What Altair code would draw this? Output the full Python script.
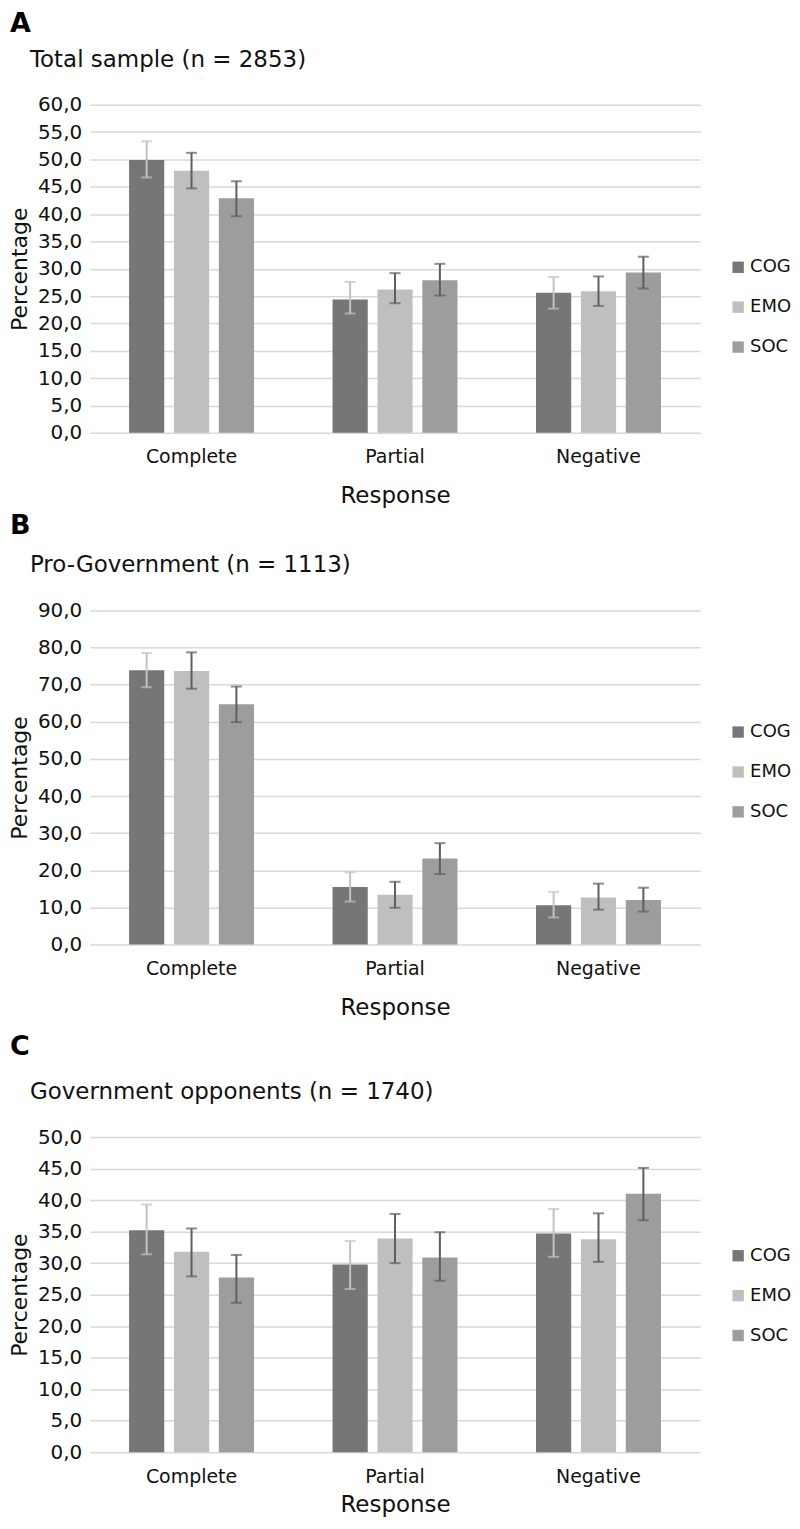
import altair as alt
import pandas as pd

FONT = "DejaVu Sans"

responses = ["Complete", "Partial", "Negative"]
types = ["COG", "EMO", "SOC"]
bar_colors = ["#767676", "#bfbfbf", "#9d9d9d"]
err_colors = ["#c2c2c2", "#5e5e5e", "#5e5e5e"]

# panel A: total sample
total_pct = [49.9, 47.9, 42.9, 24.4, 26.2, 27.9, 25.6, 25.9, 29.3]
total_low = [46.7, 44.7, 39.6, 21.8, 23.7, 25.1, 22.7, 23.2, 26.4]
total_high = [53.3, 51.2, 46.0, 27.6, 29.2, 30.9, 28.5, 28.6, 32.2]

# panel B: pro-government
pro_pct = [73.9, 73.7, 64.7, 15.5, 13.4, 23.2, 10.6, 12.7, 12.0]
pro_low = [69.3, 68.9, 59.9, 11.6, 9.9, 19.0, 7.3, 9.4, 8.9]
pro_high = [78.5, 78.7, 69.5, 19.5, 16.9, 27.3, 14.2, 16.4, 15.3]

# panel C: government opponents
opp_pct = [35.2, 31.8, 27.7, 29.8, 33.9, 30.9, 34.7, 33.8, 41.0]
opp_low = [31.4, 27.9, 23.7, 25.9, 30.0, 27.2, 31.0, 30.2, 36.8]
opp_high = [39.3, 35.5, 31.3, 33.5, 37.8, 34.9, 38.6, 37.9, 45.1]


def panel(letter, title, pct, low, high, ymax, step, plot_h, legend_y,
          letter_y, extra=0, title_pad=18):
    df = pd.DataFrame({
        "Response": [r for r in responses for _ in types],
        "Type": types * 3,
        "pct": pct,
        "low": low,
        "high": high,
        "err_color": err_colors * 3,
    })
    base = alt.Chart(df)
    x = alt.X("Response:N", sort=responses,
              scale=alt.Scale(paddingInner=0.386, paddingOuter=0.193),
              axis=alt.Axis(title="Response", labelAngle=0, ticks=False,
                            domain=False, labelPadding=15,
                            titlePadding=title_pad,
                            labelFontSize=19, titleFontSize=23,
                            offset=-extra))
    xo = alt.XOffset("Type:N", sort=types,
                     scale=alt.Scale(paddingInner=0.216, paddingOuter=0))
    yscale = alt.Scale(domain=[0, ymax], nice=False, range=[plot_h, 0])
    yaxis = alt.Axis(values=list(range(0, ymax + 1, step)),
                     labelExpr="replace(format(datum.value, '.1f'), '.', ',')",
                     labelOverlap=False,
                     title="Percentage", titleFontSize=22,
                     labelFontSize=20, labelPadding=8, titlePadding=6,
                     ticks=False, domain=False,
                     gridColor="#d9d9d9", gridWidth=1.5)

    bars = base.mark_bar().encode(
        x=x, xOffset=xo, y=alt.Y("pct:Q", scale=yscale, axis=yaxis),
        color=alt.Color("Type:N", sort=types,
                        scale=alt.Scale(domain=types, range=bar_colors),
                        legend=alt.Legend(title=None, orient="none",
                                          legendX=641, legendY=legend_y,
                                          symbolType="square", symbolSize=130,
                                          symbolStrokeWidth=0,
                                          labelFontSize=18, labelOffset=3,
                                          rowPadding=22)),
    )
    err = dict(x=x, xOffset=xo, color=alt.Color("err_color:N", scale=None))
    rules = base.mark_rule(strokeWidth=2).encode(
        y=alt.Y("low:Q", scale=yscale, axis=yaxis), y2="high:Q", **err)
    caps_lo = base.mark_tick(size=11, thickness=2).encode(
        y=alt.Y("low:Q", scale=yscale, axis=yaxis), **err)
    caps_hi = base.mark_tick(size=11, thickness=2).encode(
        y=alt.Y("high:Q", scale=yscale, axis=yaxis), **err)
    lab = alt.Chart(pd.DataFrame({"t": [letter]})).mark_text(
        align="left", baseline="top", fontSize=27, fontWeight="bold",
        font=FONT, color="#000"
    ).encode(x=alt.value(-80), y=alt.value(letter_y), text="t:N")
    sub = alt.Chart(pd.DataFrame({"t": [title]})).mark_text(
        align="left", baseline="alphabetic", fontSize=23, font=FONT,
        color="#111"
    ).encode(x=alt.value(-60), y=alt.value(-38), text="t:N")

    return (alt.layer(bars, rules, caps_lo, caps_hi, lab, sub)
            .resolve_scale(color="independent")
            .properties(width=612, height=plot_h + extra))


a = panel("A", "Total sample (n = 2853)", total_pct, total_low, total_high,
          60, 5, 329, 154, -94)
b = panel("B", "Pro-Government (n = 1113)", pro_pct, pro_low, pro_high,
          90, 10, 335, 113, -98, extra=15)
c = panel("C", "Government opponents (n = 1740)", opp_pct, opp_low, opp_high,
          50, 5, 316, 110, -103, title_pad=7)

chart = (alt.vconcat(a, b, c, spacing=178, bounds="flush")
         .properties(padding=0)
         .configure_axis(labelFont=FONT, titleFont=FONT, labelColor="#111",
                         titleColor="#111", titleFontWeight="normal")
         .configure_legend(labelFont=FONT, labelColor="#111")
         .configure_view(stroke=None))

chart.save("out.html", embed_options={"renderer": "svg", "actions": False})
